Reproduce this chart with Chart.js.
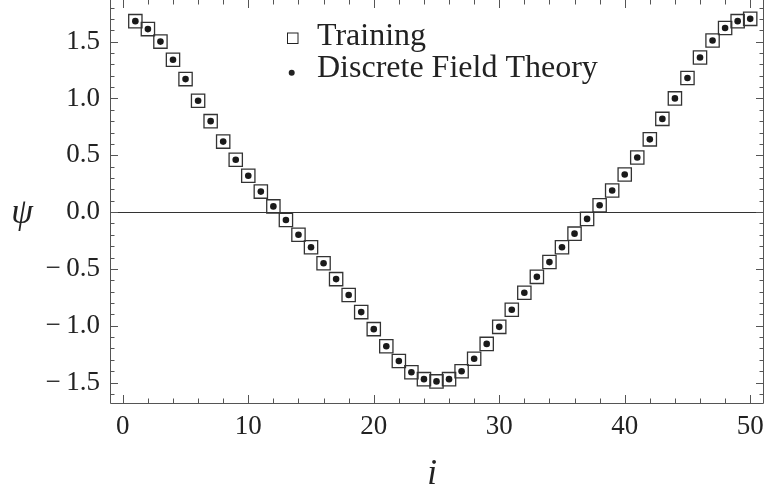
<!DOCTYPE html>
<html>
<head>
<meta charset="utf-8">
<script src="https://cdn.jsdelivr.net/npm/chart.js@4.4.1/dist/chart.umd.min.js"></script>
<style>
  html, body { margin: 0; padding: 0; background: #fff; }
  #wrap { width: 766px; height: 490px; }
</style>
</head>
<body>
<div id="wrap"><canvas id="psiChart"></canvas></div>
<script>
// lattice sites i = 1..50
const sites = [1, 2, 3, 4, 5, 6, 7, 8, 9, 10, 11, 12, 13, 14, 15, 16, 17, 18, 19, 20,
               21, 22, 23, 24, 25, 26, 27, 28, 29, 30, 31, 32, 33, 34, 35, 36, 37, 38, 39, 40,
               41, 42, 43, 44, 45, 46, 47, 48, 49, 50];

// psi (training squares and DFT dots sit on top of each other)
const trainingPsi = [1.68, 1.61, 1.50, 1.34, 1.17, 0.98, 0.80, 0.62, 0.46, 0.32,
                     0.18, 0.05, -0.07, -0.20, -0.31, -0.45, -0.59, -0.73, -0.88, -1.03,
                     -1.18, -1.31, -1.41, -1.47, -1.49, -1.47, -1.40, -1.29, -1.16, -1.01,
                     -0.86, -0.71, -0.57, -0.44, -0.31, -0.19, -0.06, 0.06, 0.19, 0.33,
                     0.48, 0.64, 0.82, 1.00, 1.18, 1.36, 1.51, 1.62, 1.68, 1.70];
const dftPsi = [1.68, 1.61, 1.50, 1.34, 1.17, 0.98, 0.80, 0.62, 0.46, 0.32,
                0.18, 0.05, -0.07, -0.20, -0.31, -0.45, -0.59, -0.73, -0.88, -1.03,
                -1.18, -1.31, -1.41, -1.47, -1.49, -1.47, -1.40, -1.29, -1.16, -1.01,
                -0.86, -0.71, -0.57, -0.44, -0.31, -0.19, -0.06, 0.06, 0.19, 0.33,
                0.48, 0.64, 0.82, 1.00, 1.18, 1.36, 1.51, 1.62, 1.68, 1.70];

const xTicks = [0, 10, 20, 30, 40, 50];
const yTicks = [-1.5, -1.0, -0.5, 0.0, 0.5, 1.0, 1.5];

const serif = '"Liberation Serif", "DejaVu Serif", serif';
const frameColor = '#555';

function toPoints(ys) {
    return sites.map((i, k) => ({ x: i, y: ys[k] }));
}

function fmtY(v) {
    const s = Math.abs(v).toFixed(1);
    return v < 0 ? '\u2212\u2009' + s : s;
}

// frame with inward ticks, like the original plot
const frameTicks = {
    id: 'frameTicks',
    beforeDatasetsDraw(chart) {
        const { ctx, chartArea: a, scales: { x, y } } = chart;
        ctx.save();
        ctx.strokeStyle = frameColor;
        ctx.lineWidth = 1;
        ctx.beginPath();
        ctx.moveTo(a.left + 0.5, a.top);
        ctx.lineTo(a.left + 0.5, a.bottom + 0.5);
        ctx.lineTo(a.right - 0.5, a.bottom + 0.5);
        ctx.lineTo(a.right - 0.5, a.top);
        // x ticks, every 2 (major every 10)
        for (let v = 0; v <= 50; v += 2) {
            const px = Math.round(x.getPixelForValue(v)) + 0.5;
            const len = v % 10 === 0 ? 8 : 4.5;
            ctx.moveTo(px, a.bottom);
            ctx.lineTo(px, a.bottom - len);
            ctx.moveTo(px, a.top);
            ctx.lineTo(px, a.top + len);
        }
        // y ticks, every 0.1 (major every 0.5)
        for (let k = -16; k <= 18; k++) {
            const v = k / 10;
            const py = Math.round(y.getPixelForValue(v)) + 0.5;
            const len = k % 5 === 0 ? 8 : 4.5;
            ctx.moveTo(a.left, py);
            ctx.lineTo(a.left + len, py);
            ctx.moveTo(a.right, py);
            ctx.lineTo(a.right - len, py);
        }
        ctx.stroke();
        ctx.restore();
    },
    afterDraw(chart) {
        const { ctx } = chart;
        ctx.save();
        ctx.fillStyle = '#222';
        ctx.strokeStyle = '#222';
        // legend
        ctx.lineWidth = 1;
        ctx.strokeRect(287.5, 33, 10.5, 10.5);
        ctx.beginPath();
        ctx.arc(291.7, 72.7, 3, 0, Math.PI * 2);
        ctx.fill();
        ctx.font = '32px ' + serif;
        ctx.textBaseline = 'alphabetic';
        ctx.textAlign = 'left';
        ctx.fillText('Training', 317, 45);
        ctx.fillText('Discrete Field Theory', 317, 77);
        // axis titles
        ctx.font = 'italic 35px ' + serif;
        ctx.textAlign = 'center';
        ctx.textBaseline = 'middle';
        ctx.fillText('\u03c8', 22, 214);
        ctx.textBaseline = 'alphabetic';
        ctx.fillText('i', 432, 484);
        ctx.restore();
    }
};

const ctx = document.getElementById('psiChart').getContext('2d');
new Chart(ctx, {
    type: 'scatter',
    data: {
        datasets: [{
            label: 'Discrete Field Theory',
            data: toPoints(dftPsi),
            pointStyle: 'circle',
            pointRadius: 3.3,
            backgroundColor: '#1a1a1a',
            borderColor: '#1a1a1a',
            borderWidth: 0,
            order: 0
        }, {
            label: 'Training',
            data: toPoints(trainingPsi),
            pointStyle: 'rect',
            pointRadius: 9.4,
            backgroundColor: 'rgba(255,255,255,0)',
            borderColor: '#333',
            borderWidth: 1.3,
            order: 1
        }]
    },
    options: {
        responsive: true,
        maintainAspectRatio: false,
        devicePixelRatio: 1,
        animation: false,
        layout: { autoPadding: false, padding: { left: 0, right: 2, top: 0, bottom: 0 } },
        plugins: {
            legend: { display: false },
            tooltip: { enabled: false }
        },
        scales: {
            x: {
                type: 'linear',
                min: -1.02,
                max: 51.1,
                afterBuildTicks: s => { s.ticks = xTicks.map(v => ({ value: v })); },
                afterFit: s => { s.height = 87; s.paddingLeft = 0; s.paddingRight = 0; },
                grid: { display: false, drawTicks: false },
                border: { display: false },
                ticks: {
                    color: '#222',
                    font: { family: serif, size: 27 },
                    padding: 8,
                    maxRotation: 0,
                    autoSkip: false
                }
            },
            y: {
                type: 'linear',
                min: -1.68,
                max: 1.866,
                afterBuildTicks: s => { s.ticks = yTicks.map(v => ({ value: v })); },
                afterFit: s => { s.width = 110; s.paddingTop = 0; s.paddingBottom = 0; },
                grid: {
                    drawTicks: false,
                    lineWidth: 1,
                    color: c => (c.tick && c.tick.value === 0 ? '#333' : 'rgba(0,0,0,0)')
                },
                border: { display: false },
                ticks: {
                    color: '#222',
                    font: { family: serif, size: 27 },
                    padding: 10,
                    autoSkip: false,
                    callback: v => fmtY(v)
                }
            }
        }
    },
    plugins: [frameTicks]
});
</script>
</body>
</html>
